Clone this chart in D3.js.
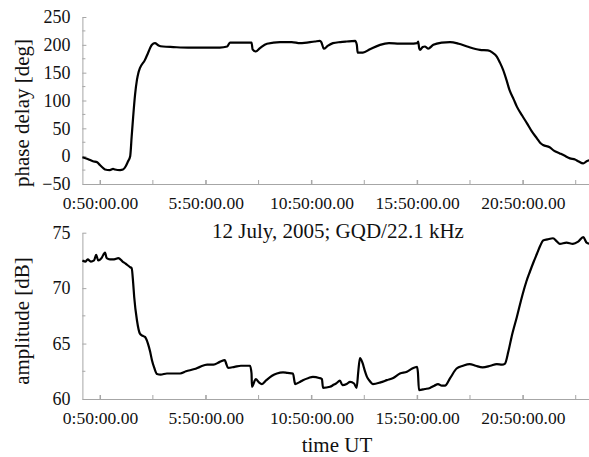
<!DOCTYPE html>
<html>
<head>
<meta charset="utf-8">
<script src="https://d3js.org/d3.v7.min.js"></script>
<style>
  body { margin: 0; background: #fff; }
  svg { display: block; }
  text { font-family: "Liberation Serif", "Times New Roman", serif; fill: #111; }
</style>
</head>
<body>
<div id="chart"></div>
<script>
// time in hours UT
const phaseT = [0,0.25,0.5,0.7,0.83,1.0,1.07,1.3,1.45,1.54,1.78,1.92,2.05,2.15,2.26,2.33,2.4,2.49,2.58,2.65,2.72,2.96,3.1,3.29,3.43,3.6,3.81,4.3,5.0,5.8,6.5,6.85,6.98,7.5,8.0,8.05,8.2,8.4,8.73,9.35,9.9,10.3,11.0,11.23,11.3,11.42,11.6,11.85,12.2,12.5,12.9,12.98,13.02,13.27,13.6,14.08,14.5,15.0,15.5,15.83,15.88,15.93,15.97,16.1,16.2,16.35,16.6,17.0,17.39,17.8,18.2,18.8,19.18,19.4,19.6,19.75,19.9,20.05,20.2,20.4,20.55,20.8,21.03,21.25,21.5,21.65,21.79,22.1,22.3,22.58,22.8,23.06,23.3,23.45,23.69,23.85,24];
const phaseV = [-2,-5,-9,-11,-16,-22,-24,-25,-23,-24,-25,-24,-18,-10,0,35,70,110,137,150,158,173,185,200,203,199,197,196,195,195,195,197,204,204,204,192,188,194,202,205,205,203,206,207,205,193,198,203,205,206,207,200,186,186,192,200,203,202,202,203,206,194,191,196,197,193,200,204,205,202,197,191,190,186,179,168,155,138,119,102,89,73,59,45,32,24,20,16,10,5,1,-4,-6,-9,-13,-9,-7];

const ampT = [0,0.15,0.25,0.4,0.55,0.65,0.75,0.9,1.07,1.15,1.3,1.5,1.7,1.9,2.05,2.25,2.33,2.4,2.45,2.58,2.72,2.85,2.96,3.1,3.2,3.29,3.4,3.53,3.7,4.0,4.3,4.62,4.9,5.3,5.56,5.9,6.2,6.5,6.74,6.8,6.89,7.2,7.5,7.93,8.0,8.02,8.2,8.35,8.49,8.7,8.97,9.2,9.49,9.7,9.96,10.03,10.06,10.25,10.43,10.7,10.9,11.2,11.33,11.38,11.71,11.9,12.0,12.18,12.3,12.5,12.66,12.85,12.97,13.05,13.13,13.25,13.35,13.46,13.6,13.74,14.1,14.4,14.7,15.02,15.35,15.6,15.83,15.87,15.92,16.2,16.44,16.65,16.82,17.0,17.15,17.4,17.7,18.0,18.32,18.6,18.93,19.3,19.6,19.85,19.99,20.15,20.3,20.55,20.83,21.0,21.17,21.35,21.5,21.65,21.79,22.0,22.26,22.45,22.58,22.9,23.2,23.45,23.69,23.85,24.0];
const ampV = [72.5,72.4,72.6,72.4,72.5,73.0,72.5,72.7,73.2,72.7,72.6,72.6,72.7,72.4,72.2,71.9,71.8,70.5,69.2,67.1,65.9,65.7,65.6,65.0,64.3,63.5,62.8,62.25,62.2,62.3,62.3,62.3,62.5,62.7,62.9,63.1,63.1,63.35,63.5,63.2,62.8,62.9,63.0,63.0,62.3,61.1,61.8,61.5,61.35,61.7,62.1,62.3,62.4,62.35,62.3,61.6,61.35,61.5,61.7,61.9,62.0,61.9,61.8,61.0,61.1,61.3,61.4,61.65,61.25,61.35,61.55,61.4,61.0,62.5,63.7,63.25,62.6,62.0,61.6,61.35,61.5,61.7,61.9,62.3,62.45,62.75,62.9,62.4,60.8,60.9,61.0,61.2,61.35,61.2,61.2,61.9,62.75,63.0,63.15,63.0,62.85,63.0,63.15,63.1,63.2,64.3,65.6,67.4,69.5,70.6,71.5,72.4,73.1,73.8,74.3,74.4,74.5,74.2,74.0,74.1,74.0,74.2,74.6,74.1,74.0];

const xMajorHours = [50/60, 5+50/60, 10+50/60, 15+50/60, 20+50/60];
const xMajorLabels = ["0:50:00.00", "5:50:00.00", "10:50:00.00", "15:50:00.00", "20:50:00.00"];
const phaseTicks = [-50, 0, 50, 100, 150, 200, 250];
const ampTicks = [60, 65, 70, 75];

const W = 589, H = 457;
const axisColor = "#a6a6a6";

const svg = d3.select("#chart").append("svg")
  .attr("width", W).attr("height", H);

const x = d3.scaleLinear().domain([0, 24]).range([82.4, 589.8]);
const xMinor = d3.range(50/60 - 2.5, 24, 2.5).filter(h => h > 0);

const panels = [
  { t: phaseT, v: phaseV, domain: [-50, 250], range: [184, 17], ticks: phaseTicks, minorStep: 25,
    label: "phase delay [deg]", labelY: 113 },
  { t: ampT, v: ampV, domain: [60, 75], range: [399, 232.7], ticks: ampTicks, minorStep: 2.5,
    label: "amplitude [dB]", labelY: 321 }
];

panels.forEach(p => {
  const y = d3.scaleLinear().domain(p.domain).range(p.range);
  const g = svg.append("g");

  // x axis, ticks pointing into the plot
  const xa = g.append("g").attr("transform", `translate(0,${p.range[0]})`)
    .call(d3.axisBottom(x).tickValues(xMajorHours).tickSizeInner(-4).tickSizeOuter(0)
      .tickFormat((d, i) => xMajorLabels[i]));
  xa.select(".domain").attr("stroke", axisColor);
  xa.selectAll(".tick line").attr("stroke", axisColor);
  xa.selectAll(".tick text").attr("font-size", 17.5).attr("font-family", "Liberation Serif")
    .attr("fill", "#111").attr("dy", null).attr("y", 25);
  g.append("g").attr("transform", `translate(0,${p.range[0]})`)
    .selectAll("line").data(xMinor).join("line")
    .attr("x1", d => x(d)).attr("x2", d => x(d)).attr("y1", 0).attr("y2", -4)
    .attr("stroke", axisColor);

  // y axis
  const ya = g.append("g").attr("transform", `translate(${x(0)},0)`)
    .call(d3.axisLeft(y).tickValues(p.ticks).tickSizeInner(-4).tickSizeOuter(0).tickPadding(12));
  ya.select(".domain").attr("stroke", axisColor);
  ya.selectAll(".tick line").attr("stroke", axisColor);
  ya.selectAll(".tick text").attr("font-size", 18).attr("font-family", "Liberation Serif")
    .attr("fill", "#111");
  const minorY = d3.range(p.domain[0], p.domain[1] + 0.001, p.minorStep).filter(v => !p.ticks.includes(v));
  g.append("g").selectAll("line").data(minorY).join("line")
    .attr("x1", x(0)).attr("x2", x(0) + 3).attr("y1", d => y(d)).attr("y2", d => y(d))
    .attr("stroke", axisColor);

  // trace
  const pts = p.t.map((t, i) => [t, p.v[i]]);
  g.append("path").datum(pts)
    .attr("fill", "none").attr("stroke", "#000").attr("stroke-width", 2.2)
    .attr("stroke-linejoin", "round")
    .attr("d", d3.line().curve(d3.curveMonotoneX).x(d => x(d[0])).y(d => y(d[1])));

  // y label
  g.append("text").attr("transform", `translate(29,${p.labelY}) rotate(-90)`)
    .attr("text-anchor", "middle").attr("font-size", 21).text(p.label);
});

svg.append("text").attr("x", 338).attr("y", 238).attr("text-anchor", "middle")
  .attr("font-size", 21).text("12 July, 2005; GQD/22.1 kHz");

svg.append("text").attr("x", 337).attr("y", 452).attr("text-anchor", "middle")
  .attr("font-size", 21).text("time UT");
</script>
</body>
</html>
